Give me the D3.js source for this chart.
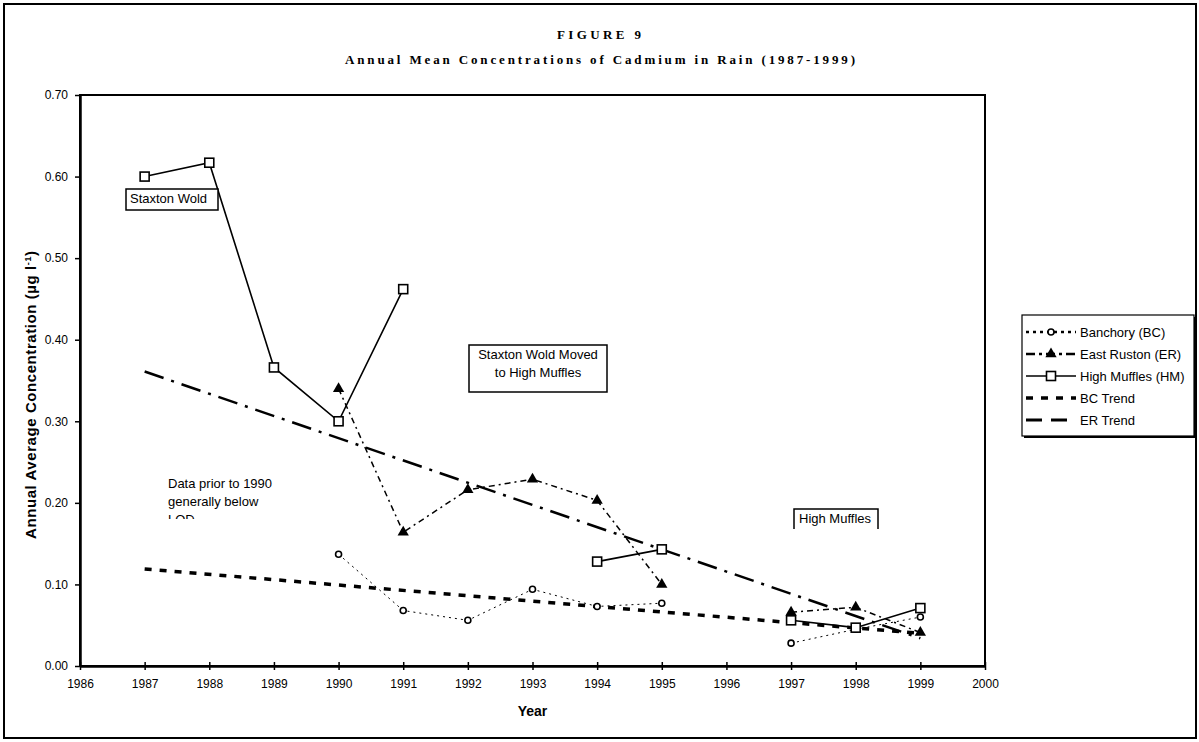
<!DOCTYPE html>
<html>
<head>
<meta charset="utf-8">
<script src="https://cdn.jsdelivr.net/npm/d3@7"></script>
<style>
  html, body { margin: 0; padding: 0; background: #fff; }
  svg { display: block; }
  text { font-family: "Liberation Sans", Arial, sans-serif; fill: #000; }
</style>
</head>
<body>
<svg id="chart" width="1199" height="742"></svg>
<script>
// Annual mean cadmium concentrations in rain (µg l-1)
const years = [1987, 1988, 1989, 1990, 1991, 1992, 1993, 1994, 1995, 1996, 1997, 1998, 1999];
const banchory    = [null, null, null, 0.137, 0.068, 0.056, 0.094, 0.073, 0.077, null, 0.028, 0.045, 0.060];
const eastRuston  = [null, null, null, 0.340, 0.164, 0.216, 0.229, 0.203, 0.100, null, 0.066, 0.072, 0.041];
const highMuffles = [0.600, 0.617, 0.366, 0.300, 0.462, null, null, 0.128, 0.143, null, 0.056, 0.047, 0.071];

// Linear trend lines (start and end year)
const trendYears = [1987, 1999];
const bcTrend = [0.119, 0.040];
const erTrend = [0.361, 0.034];

const xTicks = d3.range(1986, 2001);
const yTicks = [0, 0.1, 0.2, 0.3, 0.4, 0.5, 0.6, 0.7];

const seriesNames = ["Banchory (BC)", "East Ruston (ER)", "High Muffles (HM)", "BC Trend", "ER Trend"];

const svg = d3.select("#chart");

// outer frame
svg.append("rect").attr("x", 4).attr("y", 4).attr("width", 1192).attr("height", 734)
  .attr("fill", "none").attr("stroke", "#000").attr("stroke-width", 2);

// titles
svg.append("text").attr("x", 599).attr("y", 39).attr("text-anchor", "middle")
  .style("font-family", "'Liberation Serif', 'Times New Roman', serif")
  .style("font-weight", "bold").style("font-size", "13px")
  .attr("textLength", 84).attr("lengthAdjust", "spacing")
  .text("FIGURE 9");
svg.append("text").attr("x", 600).attr("y", 64).attr("text-anchor", "middle")
  .style("font-family", "'Liberation Serif', 'Times New Roman', serif")
  .style("font-weight", "bold").style("font-size", "13px")
  .attr("textLength", 510).attr("lengthAdjust", "spacing")
  .text("Annual Mean Concentrations of Cadmium in Rain (1987-1999)");

const x = d3.scaleLinear().domain([1986, 2000]).range([80, 985]);
const y = d3.scaleLinear().domain([0, 0.7]).range([666, 95]);

// plot frame (top and right)
svg.append("rect").attr("x", x(1986)).attr("y", y(0.7))
  .attr("width", x(2000) - x(1986)).attr("height", y(0) - y(0.7))
  .attr("fill", "none").attr("stroke", "#000").attr("stroke-width", 2);

// axes
const xAxis = svg.append("g").attr("transform", `translate(0,${y(0)})`)
  .call(d3.axisBottom(x).tickValues(xTicks).tickFormat(d3.format("d"))
    .tickSizeInner(4).tickSizeOuter(0).tickPadding(9));
xAxis.select(".domain").attr("stroke-width", 2.5);
xAxis.selectAll(".tick line").attr("y1", -4).attr("y2", 4).attr("stroke-width", 1.5);
xAxis.selectAll(".tick text").style("font-size", "12px").style("font-family", "'Liberation Sans', Arial, sans-serif");

const yAxis = svg.append("g").attr("transform", `translate(${x(1986)},0)`)
  .call(d3.axisLeft(y).tickValues(yTicks).tickFormat(d3.format(".2f"))
    .tickSizeInner(5).tickSizeOuter(0).tickPadding(7));
yAxis.select(".domain").attr("stroke-width", 2.5);
yAxis.selectAll(".tick line").attr("stroke-width", 1.5);
yAxis.selectAll(".tick text").style("font-size", "12px").style("font-family", "'Liberation Sans', Arial, sans-serif");

// axis titles
svg.append("text").attr("x", x(1993)).attr("y", 716).attr("text-anchor", "middle")
  .style("font-weight", "bold").style("font-size", "14px").text("Year");
const yt = svg.append("text").attr("transform", "translate(36,395) rotate(-90)")
  .attr("text-anchor", "middle").style("font-weight", "bold").style("font-size", "15px")
  .attr("textLength", 288).attr("lengthAdjust", "spacing");
yt.append("tspan").text("Annual Average Concentration (µg l");
yt.append("tspan").attr("dy", -5).style("font-size", "9px").text("-1");
yt.append("tspan").attr("dy", 5).text(")");

// line drawing helpers
const pts = vals => years.map((yr, i) => ({ yr, v: vals[i] }));
const line = d3.line().defined(d => d.v !== null).x(d => x(d.yr)).y(d => y(d.v));
const plot = svg.append("g");

// trend lines
plot.append("path").datum(trendYears.map((yr, i) => ({ yr, v: bcTrend[i] })))
  .attr("d", line).attr("fill", "none").attr("stroke", "#000")
  .attr("stroke-width", 3.5).attr("stroke-dasharray", "7,8");
plot.append("path").datum(trendYears.map((yr, i) => ({ yr, v: erTrend[i] })))
  .attr("d", line).attr("fill", "none").attr("stroke", "#000")
  .attr("stroke-width", 2.5).attr("stroke-dasharray", "20,8,3,8");

// series lines
plot.append("path").datum(pts(banchory)).attr("d", line).attr("fill", "none")
  .attr("stroke", "#000").attr("stroke-width", 1).attr("stroke-dasharray", "2,4");
plot.append("path").datum(pts(eastRuston)).attr("d", line).attr("fill", "none")
  .attr("stroke", "#000").attr("stroke-width", 1.5).attr("stroke-dasharray", "6,4,2,4");
plot.append("path").datum(pts(highMuffles)).attr("d", line).attr("fill", "none")
  .attr("stroke", "#000").attr("stroke-width", 1.6);

// markers
const tri = d3.symbol().type(d3.symbolTriangle).size(55);
plot.selectAll(".bc").data(pts(banchory).filter(d => d.v !== null)).join("circle")
  .attr("cx", d => x(d.yr)).attr("cy", d => y(d.v)).attr("r", 3)
  .attr("fill", "#fff").attr("stroke", "#000").attr("stroke-width", 1.6);
plot.selectAll(".er").data(pts(eastRuston).filter(d => d.v !== null)).join("path")
  .attr("d", tri).attr("transform", d => `translate(${x(d.yr)},${y(d.v)})`).attr("fill", "#000");
plot.selectAll(".hm").data(pts(highMuffles).filter(d => d.v !== null)).join("rect")
  .attr("x", d => x(d.yr) - 4.5).attr("y", d => y(d.v) - 4.5).attr("width", 9).attr("height", 9)
  .attr("fill", "#fff").attr("stroke", "#000").attr("stroke-width", 1.6);

// annotations
function boxNote(x0, y0, w, h, lines, tx, anchor, clipH) {
  const g = svg.append("g");
  if (clipH) {
    const id = "clip" + Math.round(x0);
    svg.append("clipPath").attr("id", id).append("rect")
      .attr("x", x0 - 2).attr("y", y0 - 2).attr("width", w + 4).attr("height", clipH + 2);
    g.attr("clip-path", `url(#${id})`);
  }
  g.append("rect").attr("x", x0).attr("y", y0).attr("width", w).attr("height", h)
    .attr("fill", "#fff").attr("stroke", "#000").attr("stroke-width", 1.5);
  lines.forEach((t, i) => g.append("text").attr("x", tx).attr("y", y0 + 14 + i * 18)
    .attr("text-anchor", anchor).style("font-size", "13px").text(t));
}
boxNote(126, 189, 92, 21, ["Staxton Wold"], 130, "start");
boxNote(469, 345, 138, 47, ["Staxton Wold Moved", "to High Muffles"], 538, "middle");
boxNote(794, 509, 84, 40, ["High Muffles"], 799, "start", 20);

// note about early data, cut at its lower edge
svg.append("clipPath").attr("id", "clipNote").append("rect")
  .attr("x", 160).attr("y", 460).attr("width", 150).attr("height", 59);
const note = svg.append("g").attr("clip-path", "url(#clipNote)");
["Data prior to 1990", "generally below", "LOD"].forEach((t, i) =>
  note.append("text").attr("x", 168).attr("y", 488 + i * 18).style("font-size", "13px").text(t));

// legend
const lg = svg.append("g");
lg.append("rect").attr("x", 1024).attr("y", 317).attr("width", 172).attr("height", 121).attr("fill", "#000");
lg.append("rect").attr("x", 1022).attr("y", 315).attr("width", 172).attr("height", 121)
  .attr("fill", "#fff").attr("stroke", "#000").attr("stroke-width", 1.2);
const legY = [332, 354, 376, 398, 420];
const legStyles = [
  { w: 2.5, dash: "3,4" },
  { w: 2.5, dash: "9,4,3,4" },
  { w: 1.6, dash: null },
  { w: 3.5, dash: "7,8" },
  { w: 3, dash: "16,9" }
];
seriesNames.forEach((name, i) => {
  const ly = legY[i];
  lg.append("line").attr("x1", 1026).attr("x2", 1076).attr("y1", ly).attr("y2", ly)
    .attr("stroke", "#000").attr("stroke-width", legStyles[i].w)
    .attr("stroke-dasharray", legStyles[i].dash);
  lg.append("text").attr("x", 1080).attr("y", ly + 4.5).style("font-size", "13px").text(name);
});
lg.append("circle").attr("cx", 1051).attr("cy", legY[0]).attr("r", 3)
  .attr("fill", "#fff").attr("stroke", "#000").attr("stroke-width", 1.6);
lg.append("path").attr("d", tri).attr("transform", `translate(1051,${legY[1]})`).attr("fill", "#000");
lg.append("rect").attr("x", 1046.5).attr("y", legY[2] - 4.5).attr("width", 9).attr("height", 9)
  .attr("fill", "#fff").attr("stroke", "#000").attr("stroke-width", 1.6);
</script>
</body>
</html>
